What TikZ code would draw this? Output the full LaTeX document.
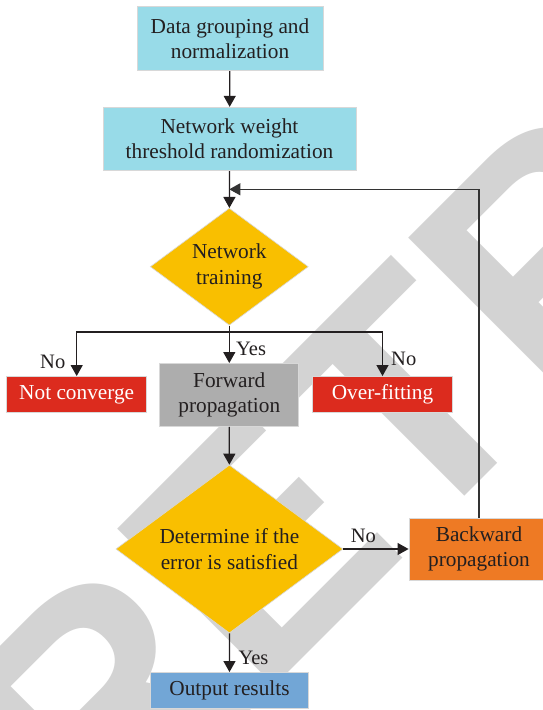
\documentclass[tikz,border=0pt]{standalone}
\usepackage{fontspec}
\setmainfont{Liberation Serif}
\newfontfamily\wmfont{Liberation Sans}
\usetikzlibrary{arrows.meta,shapes.geometric}
\definecolor{cyanbox}{HTML}{98DBE8}
\definecolor{yellowd}{HTML}{F9BF00}
\definecolor{redbox}{HTML}{DC2B1E}
\definecolor{graybox}{HTML}{ADADAD}
\definecolor{orangebox}{HTML}{EE7A24}
\definecolor{bluebox}{HTML}{72A6D6}
\definecolor{wmgray}{HTML}{D3D3D3}
\definecolor{edge}{HTML}{D8D8D8}
\definecolor{ink}{HTML}{231F20}
\begin{document}
\begin{tikzpicture}[x=1pt,y=-1pt,
  box/.style={rectangle,draw=edge,line width=0.9pt,inner sep=0pt,align=center,text=ink,
    font=\fontsize{21.3}{25}\selectfont},
  dia/.style={diamond,fill=yellowd,draw=edge,line width=0.6pt,inner sep=0pt,align=center,text=ink,
    font=\fontsize{21.3}{26}\selectfont},
  lbl/.style={inner sep=0pt,anchor=base west,text=ink,font=\fontsize{20.5}{24}\selectfont},
  arr/.style={line width=1.2pt,draw=ink,-{Triangle[length=11pt,width=12pt]}},
  ln/.style={line width=1.2pt,draw=ink}]
\useasboundingbox (0,0) rectangle (543,710);
\clip (0,0) rectangle (543,710);
\fill[white] (0,0) rectangle (543,710);
% watermark
\node[rotate=45,anchor=base west,inner sep=0pt,text=wmgray,
  font=\wmfont\bfseries\fontsize{323}{323}\selectfont] (wm) at (94,867) {RETRACTED};
% nodes
\node[box,fill=cyanbox,minimum width=186pt,minimum height=64pt] (b1) at (230,38.7) {Data grouping and\\normalization};
\node[box,fill=cyanbox,minimum width=253pt,minimum height=63.4pt] (b2) at (229.5,139) {Network weight\\threshold randomization};
\node[dia,minimum width=158pt,minimum height=117pt,aspect=1.35] (d1) at (229.3,266.7) {Network\\training};
\node[box,fill=redbox,text=white,minimum width=140pt,minimum height=36pt] (nc) at (76.7,394.5) {Not converge};
\node[box,fill=graybox,minimum width=139pt,minimum height=63pt] (fw) at (229.3,395) {Forward\\propagation};
\node[box,fill=redbox,text=white,minimum width=139.6pt,minimum height=36pt] (of) at (382.5,394.5) {Over-fitting};
\node[dia,minimum width=227pt,minimum height=168pt,aspect=1.35] (d2) at (229.4,549) {Determine if the\\error is satisfied};
\node[box,fill=orangebox,minimum width=140pt,minimum height=62pt] (bw) at (479,549) {Backward\\propagation};
\node[box,fill=bluebox,minimum width=157.6pt,minimum height=36pt] (out) at (229.5,690.5) {Output results};
% helper coordinates
\coordinate (br) at (229.3,332);
\coordinate (fb) at (229.3,189.3);
% connectors
\draw[arr] (b1) -- (b2);
\draw[arr] (b2) -- (d1);
\draw[ln] (d1.south) -- (br);
\draw[arr] (br) -- (fw.north);
\draw[arr] (br) -| (nc.north);
\draw[arr] (br) -| (of.north);
\draw[arr] (fw) -- (d2);
\draw[arr] (d2.east) -- (bw.west);
\draw[arr] (d2.south) -- (out.north);
\draw[arr,line width=1.1pt,draw=black!80] (bw.north) |- (fb);
% labels
\node[lbl] (l1) at (40,368.3) {No};
\node[lbl] (l2) at (236,355.7) {Yes};
\node[lbl] (l3) at (391,365.7) {No};
\node[lbl] (l4) at (350.7,542.7) {No};
\node[lbl] (l5) at (238.3,664.3) {Yes};
\end{tikzpicture}
\end{document}
